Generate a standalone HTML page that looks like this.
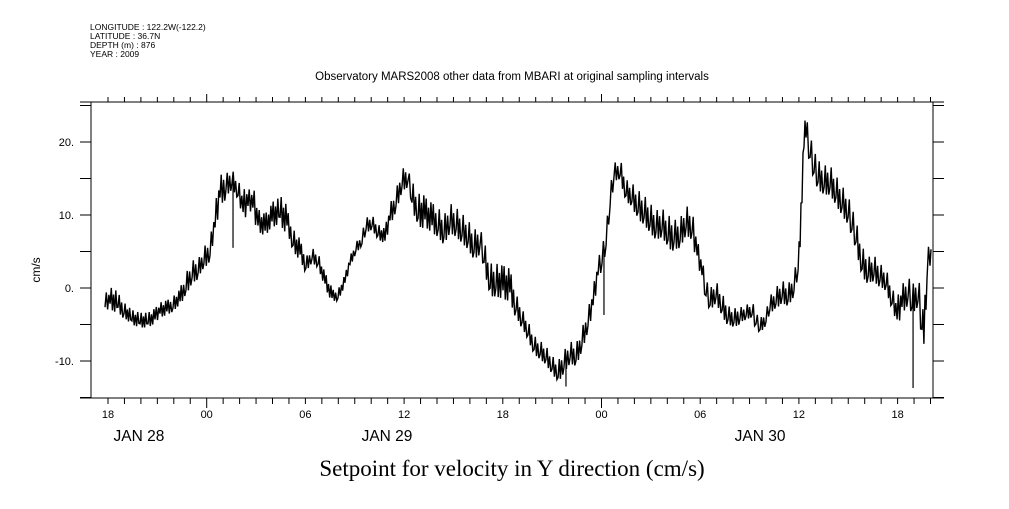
<!DOCTYPE html>
<html><head><meta charset="utf-8"><style>
body{margin:0;background:#fff;width:1009px;height:504px;overflow:hidden}
svg text{font-family:"Liberation Sans",sans-serif;fill:#000}
</style></head><body>
<svg id="chart" width="1009" height="504" viewBox="0 0 1009 504" xmlns="http://www.w3.org/2000/svg">
<g font-size="8.5">
<text x="90" y="30">LONGITUDE : 122.2W(-122.2)</text>
<text x="90" y="39">LATITUDE : 36.7N</text>
<text x="90" y="48">DEPTH (m) : 876</text>
<text x="90" y="57">YEAR : 2009</text>
</g>
<text x="512" y="80" font-size="11.5" text-anchor="middle">Observatory MARS2008 other data from MBARI at original sampling intervals</text>
<text x="512" y="476" font-size="23" text-anchor="middle" style="font-family:'Liberation Serif',serif">Setpoint for velocity in Y direction (cm/s)</text>
<text transform="translate(40,270) rotate(-90)" font-size="12" text-anchor="middle">cm/s</text>
<g id="axes"></g>
<g id="marks"></g>
</svg>
<script>
// hours after Jan 27 18:00
const hours=[-0.18,0.13,0.61,0.97,1.45,1.95,2.43,2.86,3.16,3.58,3.95,4.38,4.74,5.11,5.48,5.83,6.20,6.51,6.81,7.17,7.54,7.90,8.21,8.51,8.81,9.12,9.55,9.97,10.46,10.88,11.25,11.68,12.03,12.40,12.77,13.19,13.62,13.98,14.41,14.71,15.07,15.44,15.69,16.05,16.41,16.84,17.14,17.51,17.88,18.23,18.48,18.85,19.27,19.70,20.07,20.42,20.79,21.16,21.52,21.89,22.25,22.61,22.86,23.23,23.58,24.01,24.43,24.80,25.17,25.53,25.90,26.27,26.62,26.99,27.36,27.72,28.09,28.45,28.81,29.18,29.49,29.79,30.03,30.28,30.52,30.76,31.13,31.49,31.85,32.22,32.59,32.95,33.31,33.68,34.04,34.41,34.78,35.14,35.50,35.81,36.11,36.35,36.60,36.96,37.33,37.69,38.05,38.42,38.79,39.15,39.39,39.64,40.00,40.24,40.61,40.98,41.34,41.70,41.95,42.07,42.19,42.31,42.43,42.68,42.92,43.16,43.53,43.89,44.25,44.62,44.99,45.22,45.47,45.84,46.21,46.56,46.93,47.30,47.66,47.97,48.27,48.63,48.88,49.24,49.48,49.60,49.79,49.97];
const values=[-2,-1.4,-2,-3,-4,-4.4,-4.4,-3.8,-3,-2.7,-2.2,-1.2,0.5,2.2,2.7,4.1,5.2,9.3,13.4,14.1,15,13.4,11.4,12,12,9.3,8.6,10,10.7,9.3,6.6,5.2,3.2,4.5,3.8,1.1,-1,-1,1.1,3.6,5.5,6.6,8.6,9,7.7,7.1,10,12,14.8,15.3,12.7,10.7,10.4,9.6,9,7.9,9.6,9,8.2,7.3,5.9,6.6,4.5,1.1,1.1,0.8,0.4,-2.3,-4.1,-5.8,-7.8,-8.5,-9.2,-10.5,-11.5,-10.1,-8.8,-9.2,-7.1,-4.4,-1.6,2.5,4.1,6.6,12,15.9,16.2,13.4,12.7,11.4,10.7,9.6,8.6,9,7.7,7.3,7.5,9.3,8.6,5.2,2.5,-0.3,-1.6,-0.5,-2.3,-3.7,-4.1,-3.7,-3.3,-3,-4.4,-5.2,-4.1,-2.3,-1.4,-0.5,-1,0.4,3.2,6.6,12.7,20.3,21.6,18.9,16.8,15.5,14.8,14.8,13.4,12,10.7,9,7.3,3.6,2.5,2.7,1.8,1.1,-1.4,-3.3,-1.6,-0.3,-1.6,-0.5,-4.4,-6.4,2.5,3.8];
const spreads=[2.5,3,2.5,2,2,2,2,2,2,2,2,2.5,3,3,2.5,3,3,4,4,3,2.5,3,4,3,4,3,3,3.5,4,3,3,2.5,2,2,2,2,1.5,1.5,1.5,1.5,1.5,2,2,2,2,2.5,3,3,3,2.5,4,4.5,4,4,4,4,4,4,4,4,4,3.5,4,4.5,4.5,4.5,4,3,2.5,2.5,2.5,2.5,2.5,2.5,3,3,3,3,3,3,3,3,3,3,3,2.5,3,3,3.5,4,4,4,4,4,4.5,4,4,4,4,3,3,3,3,3,3,2.5,2.5,2,2,2.5,2,2,2,2.5,3,3,3,3,3,4,4,4,4,4,4,4,4,4,4,4,4,4,4,4,3.5,3.5,3,3,3,4,4,4,4,5,5,5,5];
const spikeHours=[7.60,27.84,30.15,48.94];
const spikeValues=[5.5,-13.5,-3.7,-13.7];
const yTicks=[-10,0,10,20];
const xTickLabels=["18","00","06","12","18","00","06","12","18"];
const dateLabels=["JAN 28","JAN 29","JAN 30"];
const dateLabelHours=[1.88,16.96,39.64];

const L=91,R=933,T=102,B=398;
const X=h=>108+h*16.45;
const Y=v=>288-v*7.3;
const ns="http://www.w3.org/2000/svg";
const axes=document.getElementById('axes'),marks=document.getElementById('marks');
function line(p,x1,y1,x2,y2,w){const e=document.createElementNS(ns,'line');e.setAttribute('x1',x1);e.setAttribute('y1',y1);e.setAttribute('x2',x2);e.setAttribute('y2',y2);e.setAttribute('stroke','#000');e.setAttribute('stroke-width',w||1);p.appendChild(e);return e;}
function text(p,x,y,s,size,anchor){const e=document.createElementNS(ns,'text');e.setAttribute('x',x);e.setAttribute('y',y);e.setAttribute('font-size',size);e.setAttribute('text-anchor',anchor||'middle');e.textContent=s;p.appendChild(e);return e;}

let e;
e=line(axes,80,T,944,T);


e=line(axes,80,B,944,B);


e=line(axes,L,T,L,B);


e=line(axes,R,T,R,B);


for(let h=0;h<=50;h++){
  const x=X(h),major=(h%24===6);
  e=line(axes,x,B,x,B+(major?10:6));
  
  
  e=line(axes,x,T,x,T-(major?8:5));
  
  
}
xTickLabels.forEach((s,i)=>{
  e=text(axes,X(i*6),418,s,11);
  
  
});
dateLabels.forEach((s,i)=>{
  e=text(axes,X(dateLabelHours[i]),441,s,15.5);
  
  
});
for(let v=-15;v<=25;v+=5){
  const y=Y(v); if(y<T-1||y>B+1)continue;
  e=line(axes,L-11,y,L,y);
  
  
  e=line(axes,R,y,R+11,y);
  
  
}
yTicks.forEach(v=>{
  e=text(axes,74,Y(v)+4,v+'.',11,'end');
  
  
});
let pts=[];
for(let i=0;i<hours.length;i++){
  const x0=X(hours[i]);
  const x1=i<hours.length-1?X(hours[i+1]):x0+2;
  const n=Math.max(2,Math.round((x1-x0)/1.2));
  const sp=(spreads[i]===undefined?3:spreads[i]);
  for(let k=0;k<n;k++){
    const f=k/n;
    const v=values[i]+(i<hours.length-1?(values[i+1]-values[i])*f:0);
    const s=sp/2*((k%2)?1:-1)*(k%3===0?0.5:1);
    pts.push(Math.max(L,Math.min(R,x0+(x1-x0)*f)).toFixed(1)+','+Y(v+s).toFixed(1));
  }
}
const pl=document.createElementNS(ns,'polyline');
pl.setAttribute('points',pts.join(' '));
pl.setAttribute('fill','none');pl.setAttribute('stroke','#000');pl.setAttribute('stroke-width','1.4');


marks.appendChild(pl);
function valAt(h){for(let i=0;i<hours.length-1;i++){if(h>=hours[i]&&h<=hours[i+1]){const f=(h-hours[i])/(hours[i+1]-hours[i]);return values[i]+(values[i+1]-values[i])*f;}}return values[values.length-1];}
spikeHours.forEach((h,i)=>{
  e=line(marks,X(h),Y(valAt(h)),X(h),Y(spikeValues[i]),1.2);
  
  
});
</script>
</body></html>
